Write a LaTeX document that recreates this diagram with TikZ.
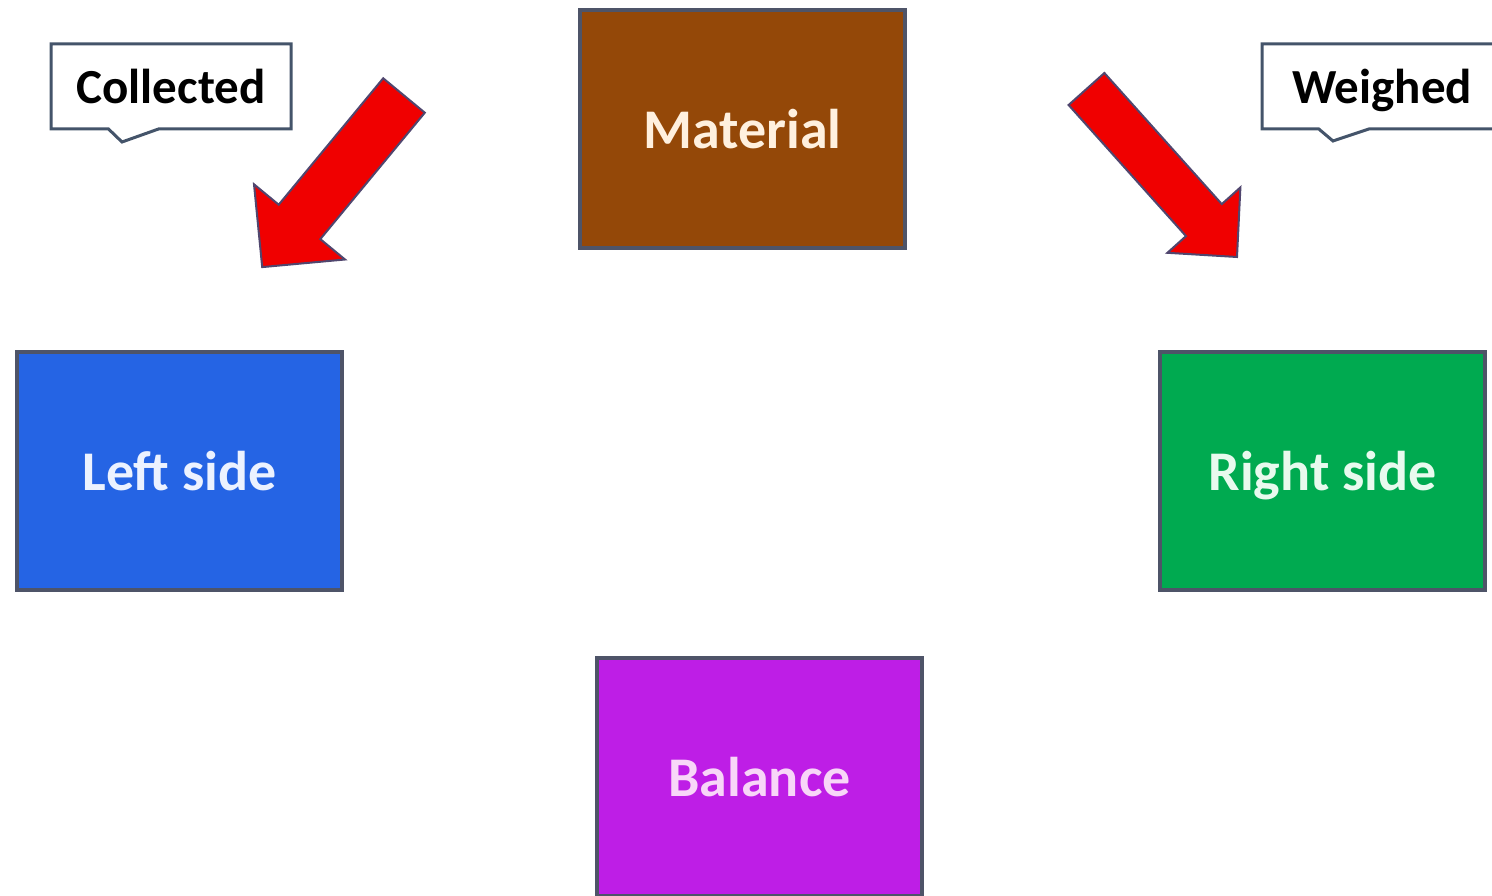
\documentclass[tikz,border=0pt]{standalone}
\usepackage{fontspec}
\setmainfont{Carlito}
\usetikzlibrary{shapes.callouts}
\definecolor{edgeC}{RGB}{78,84,104}
\definecolor{matFill}{RGB}{148,72,8}
\definecolor{leftFill}{RGB}{37,100,228}
\definecolor{rightFill}{RGB}{0,170,80}
\definecolor{balFill}{RGB}{190,30,230}
\definecolor{matText}{RGB}{255,240,222}
\definecolor{leftText}{RGB}{236,242,255}
\definecolor{rightText}{RGB}{232,250,238}
\definecolor{balText}{RGB}{248,214,248}
\definecolor{arrowRed}{RGB}{240,0,0}
\definecolor{arrowEdge}{RGB}{80,70,110}
\definecolor{calloutEdge}{RGB}{68,84,106}
\tikzset{
  bigbox/.style={rectangle, draw=edgeC, line width=4pt, minimum width=325pt, minimum height=238pt,
     inner sep=0pt, text height=39pt, text depth=0pt, font=\fontsize{56}{60}\selectfont\bfseries},
  notebox/.style={rectangle callout, draw=calloutEdge, fill=white, line width=3pt,
     minimum width=240pt, minimum height=85pt, inner sep=0pt, callout pointer width=50pt,
     text height=35pt, text depth=0pt,
     font=\fontsize{49}{54}\selectfont\bfseries, text=black},
  blockarrow/.style={fill=arrowRed, draw=arrowEdge, line width=2pt, line join=miter}
}
\begin{document}
\begin{tikzpicture}[x=1pt,y=-1pt]
\useasboundingbox (0,0) rectangle (1492,896);
% boxes
\node[bigbox, fill=matFill, text=matText] (mat) at (742.5,129.5) {Material};
\node[bigbox, fill=leftFill, text=leftText] (left) at (179.5,471) {Left side};
\node[bigbox, fill=rightFill, text=rightText] (right) at (1322.5,471) {Right side};
\node[bigbox, fill=balFill, text=balText] (bal) at (759.5,777) {Balance};
% callouts
\node[notebox, callout absolute pointer={(122,142)}] (coll) at (171,86.5) {Collected};
\node[notebox, callout absolute pointer={(1333,141)}] (weigh) at (1382,86.5) {Weighed};
% block arrows
\draw[blockarrow] (383.2,78.3) -- (424.8,112.7) -- (320.3,239.1) -- (345,259.5)
   -- (262.2,267.1) -- (254,184.3) -- (278.7,204.7) -- cycle;
\draw[blockarrow] (1104.4,73.0) -- (1221.8,204.1) -- (1240.4,187.4) -- (1237,257)
   -- (1167.4,252.8) -- (1186.0,236.1) -- (1068.6,105.0) -- cycle;
\end{tikzpicture}
\end{document}
